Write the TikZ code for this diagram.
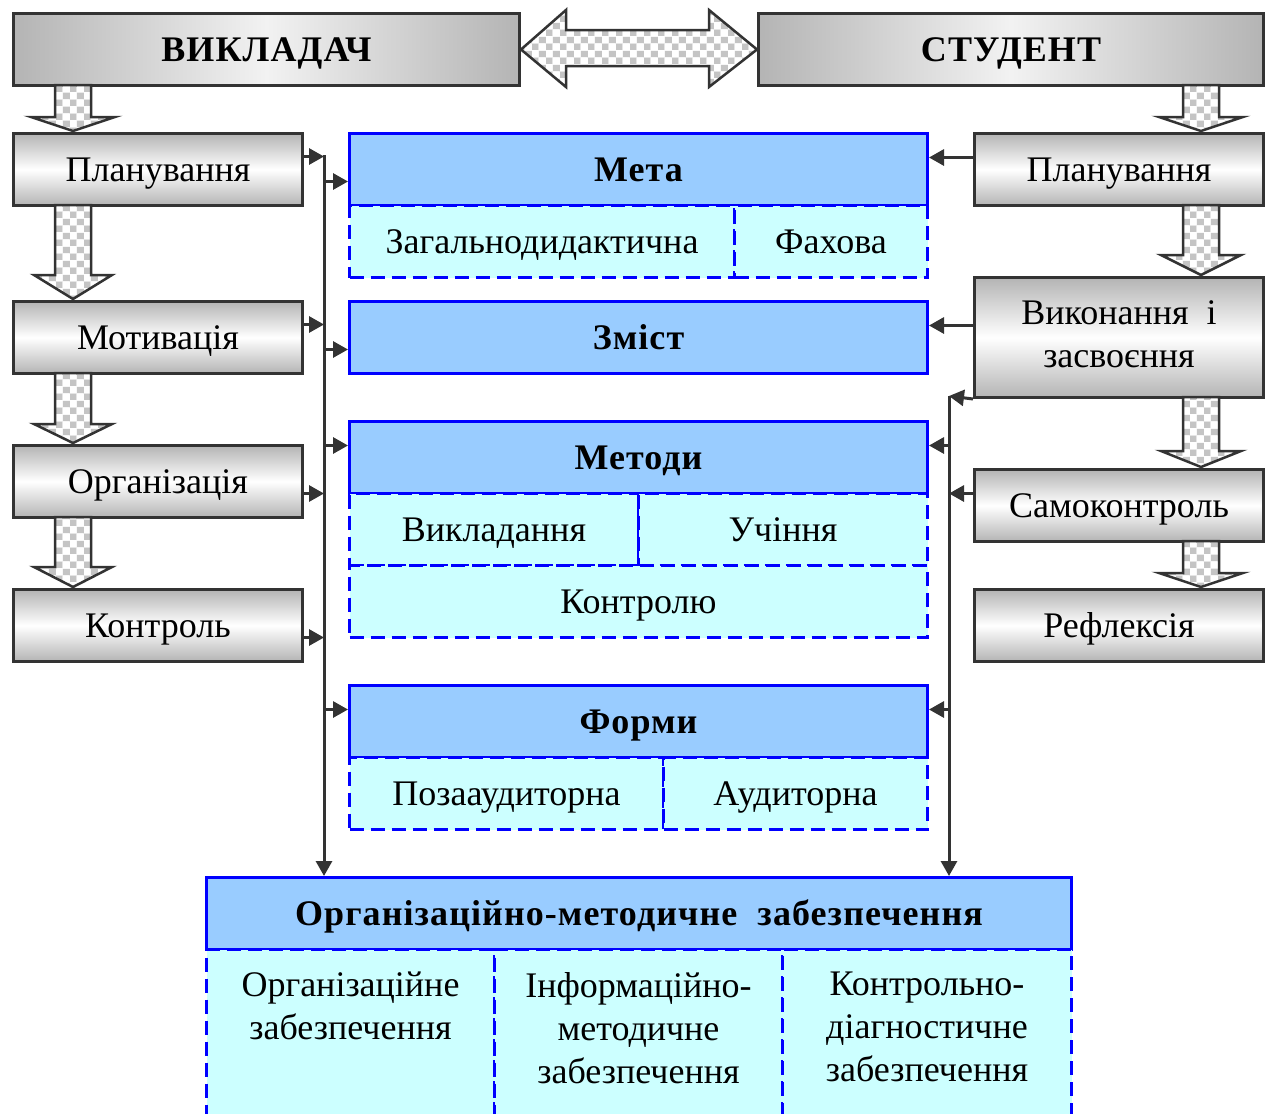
\documentclass[tikz,border=0pt]{standalone}
\usepackage{fontspec}
\setmainfont{Liberation Serif}
\newfontfamily\bfam[LetterSpace=3]{Liberation Serif}
\usetikzlibrary{arrows.meta,patterns}
\definecolor{dgray}{HTML}{333333}
\definecolor{boxgray}{HTML}{B4B4B4}
\definecolor{boxlight}{HTML}{F2F2F2}
\definecolor{bblue}{HTML}{0000FF}
\definecolor{hblue}{HTML}{99CCFF}
\definecolor{ccyan}{HTML}{CCFFFF}
\definecolor{chk}{HTML}{C4C4C4}
\newcommand\fsN{\fontsize{36}{43}\selectfont}
\newcommand\fbN{\bfam\bfseries\fontsize{36}{43}\selectfont}
\pgfdeclarepatterninherentlycolored{mycheck}{\pgfpointorigin}{\pgfpoint{14pt}{14pt}}{\pgfpoint{14pt}{14pt}}{%
  \pgfsetfillcolor{chk}%
  \pgfpathrectangle{\pgfpointorigin}{\pgfpoint{7pt}{7pt}}%
  \pgfpathrectangle{\pgfpoint{7pt}{7pt}}{\pgfpoint{7pt}{7pt}}%
  \pgfusepath{fill}%
  \pgfsetfillcolor{white}%
  \pgfpathrectangle{\pgfpoint{7pt}{0pt}}{\pgfpoint{7pt}{7pt}}%
  \pgfpathrectangle{\pgfpoint{0pt}{7pt}}{\pgfpoint{7pt}{7pt}}%
  \pgfusepath{fill}%
}
\tikzset{
  oneline/.style={text height=29pt, text depth=6pt},
  gbase/.style={draw=dgray, line width=3pt, top color=boxgray, bottom color=boxgray, middle color=white,
    anchor=north west, inner sep=0pt, font=\fsN, align=center, minimum width=289pt, minimum height=72pt},
  gbox/.style={gbase, oneline},
  tbox/.style={draw=dgray, line width=3pt, left color=boxgray, right color=boxgray, middle color=boxlight,
    anchor=north west, inner sep=0pt, font=\fbN, minimum height=72pt, oneline},
  hbox/.style={draw=bblue, line width=3pt, fill=hblue, anchor=north west, inner sep=0pt, font=\fbN,
    minimum height=72pt, oneline},
  cbox/.style={draw=bblue, line width=3pt, dash pattern=on 14pt off 7pt, fill=ccyan, anchor=north west,
    inner sep=0pt, font=\fsN, minimum height=72pt, oneline},
  conn/.style={draw=dgray, line width=3pt, -{Triangle[length=15pt,width=16pt]}},
  barrow/.style={draw=dgray, line width=2.5pt, pattern=mycheck, line join=miter},
  celltext/.style={anchor=north, inner sep=0pt, font=\fsN, align=center},
}
\newcommand\bdown[5]{% cx, y0, y1, head length, head half width
  \draw[barrow] ({#1-18},#2) -- ({#1+18},#2) -- ({#1+18},{#3-#4}) -- ({#1+#5},{#3-#4}) -- (#1,#3)
    -- ({#1-#5},{#3-#4}) -- ({#1-18},{#3-#4}) -- cycle;}
\begin{document}
\begin{tikzpicture}[x=1pt,y=-1pt]
\useasboundingbox (0,0) rectangle (1272,1114);
\fill[white] (0,0) rectangle (1272,1114);

% top boxes
\node[tbox, minimum width=506pt] (vykl) at (12,12) {ВИКЛАДАЧ};
\node[tbox, minimum width=505pt] (stud) at (757,12) {СТУДЕНТ};
\draw[barrow] (vykl.east) -- (566,10) -- (566,30) -- (709,30) -- (709,10) -- (stud.west)
  -- (709,87) -- (709,66) -- (566,66) -- (566,87) -- cycle;

% left column
\node[gbox] (lplan) at (12,132) {Планування};
\node[gbox] (lmot) at (12,300) {Мотивація};
\node[gbox] (lorg) at (12,444) {Організація};
\node[gbox] (lkon) at (12,588) {Контроль};
\bdown{73}{85}{131}{14}{42}
\bdown{73}{205}{299}{24}{39}
\bdown{73}{373}{443}{19}{39}
\bdown{73}{517}{587}{20}{39}

% right column
\node[gbox] (rplan) at (973,132) {Планування};
\node[gbase, minimum height=120pt] (rvyk) at (973,276) {};
\node[celltext, anchor=center] (rvyktext) at ([yshift=3pt]rvyk.center) {Виконання\ \ і\\засвоєння};
\node[gbox] (rsam) at (973,468) {Самоконтроль};
\node[gbox] (rref) at (973,588) {Рефлексія};
\bdown{1201}{85}{131}{14}{42}
\bdown{1201}{205}{275}{20}{40}
\bdown{1201}{397}{467}{16}{40}
\bdown{1201}{541}{587}{14}{42}

% centre
\node[hbox, minimum width=578pt] (meta) at (348,132) {Мета};
\node[cbox, minimum width=385pt] (zag) at (348,204) {Загальнодидактична};
\node[cbox, minimum width=193pt] (fah) at (733,204) {Фахова};
\node[hbox, minimum width=578pt] (zmist) at (348,300) {Зміст};
\node[hbox, minimum width=578pt] (metody) at (348,420) {Методи};
\node[cbox, minimum width=289pt] (vyklad) at (348,492) {Викладання};
\node[cbox, minimum width=289pt] (uch) at (637,492) {Учіння};
\node[cbox, minimum width=578pt] (kontr) at (348,564) {Контролю};
\node[hbox, minimum width=578pt] (formy) at (348,684) {Форми};
\node[cbox, minimum width=314pt] (poza) at (348,756) {Позааудиторна};
\node[cbox, minimum width=264pt] (aud) at (662,756) {Аудиторна};

% bottom
\node[hbox, minimum width=865pt] (omz) at (205,876) {Організаційно-методичне\ \ забезпечення};
\node[cbox, minimum width=288pt, minimum height=172pt] (c1) at (205,948) {};
\node[cbox, minimum width=288pt, minimum height=172pt] (c2) at (493,948) {};
\node[cbox, minimum width=289pt, minimum height=172pt] (c3) at (781,948) {};
\node[celltext] (t1) at ([yshift=-24pt]c1.north) {Організаційне\\забезпечення};
\node[celltext] (t2) at ([yshift=-24pt]c2.north) {Інформаційно-\\методичне\\забезпечення};
\node[celltext] (t3) at ([yshift=-24pt]c3.north) {Контрольно-\\діагностичне\\забезпечення};

% left connectors
\coordinate (lbus) at (324,155);
\draw[conn] (lbus) -- (lbus |- omz.north);
\draw[conn] ([yshift=13pt]lplan.east) -- ([yshift=13pt]lplan.east -| lbus);
\draw[conn] ([yshift=13pt]lmot.east) -- ([yshift=13pt]lmot.east -| lbus);
\draw[conn] ([yshift=-12pt]lorg.east) -- ([yshift=-12pt]lorg.east -| lbus);
\draw[conn] ([yshift=-12pt]lkon.east) -- ([yshift=-12pt]lkon.east -| lbus);
\draw[conn] ([yshift=-12pt]meta.west -| lbus) -- ([yshift=-12pt]meta.west);
\draw[conn] ([yshift=-12pt]zmist.west -| lbus) -- ([yshift=-12pt]zmist.west);
\draw[conn] ([yshift=12pt]metody.west -| lbus) -- ([yshift=12pt]metody.west);
\draw[conn] ([yshift=12pt]formy.west -| lbus) -- ([yshift=12pt]formy.west);

% right connectors
\coordinate (rbus) at (949,396);
\draw[conn] ([yshift=12pt]rplan.west) -- ([yshift=12pt]rplan.west -| meta.east);
\draw[conn] ([yshift=12pt]rvyk.west) -- ([yshift=12pt]rvyk.west -| zmist.east);
\draw[conn] (rvyk.south west) -- (rbus);
\draw[conn] (rbus) -- (rbus |- omz.north);
\draw[conn] ([yshift=12pt]metody.east -| rbus) -- ([yshift=12pt]metody.east);
\draw[conn] ([yshift=12pt]rsam.west) -- ([yshift=12pt]rsam.west -| rbus);
\draw[conn] ([yshift=12pt]formy.east -| rbus) -- ([yshift=12pt]formy.east);
\end{tikzpicture}
\end{document}
